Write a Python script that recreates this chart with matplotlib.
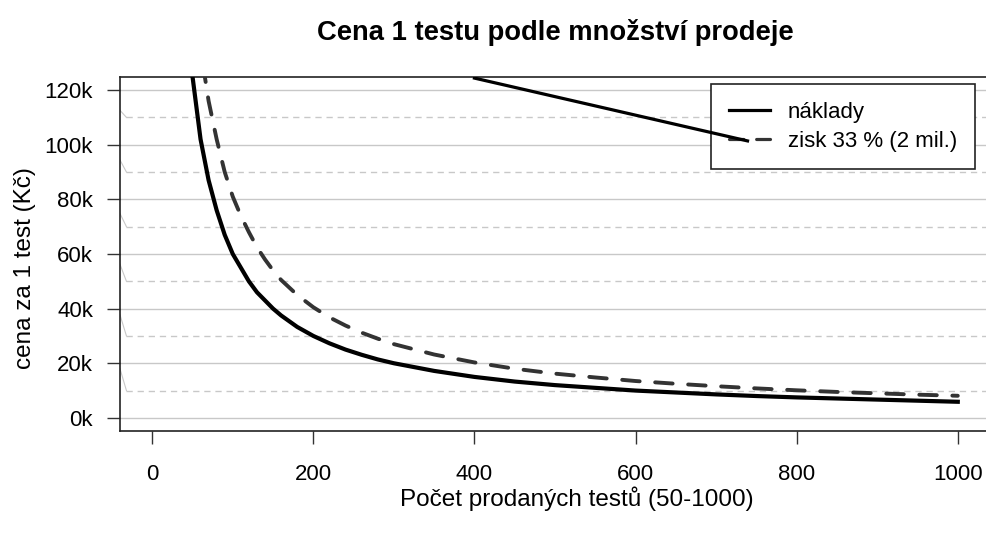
import matplotlib
matplotlib.use('Agg')
import matplotlib.pyplot as plt

# data
n_tests = [50, 60, 70, 80, 90, 100, 110, 120, 130, 140, 150, 160, 180, 200,
           220, 240, 260, 280, 300, 350, 400, 450, 500, 550, 600, 650, 700,
           750, 800, 850, 900, 950, 1000]
naklady = [125000, 102000, 87000, 76000, 67000, 60000, 55000, 50000, 46000,
           43000, 40000, 37500, 33300, 30000, 27300, 25000, 23100, 21400,
           20000, 17200, 15000, 13300, 12000, 11000, 10000, 9300, 8600,
           8000, 7500, 7100, 6700, 6300, 5900]
zisk = [165000, 135000, 116000, 102000, 90000, 81000, 74000, 68000, 62500,
        58000, 54000, 50500, 45000, 40500, 36800, 33800, 31200, 29000,
        27000, 23200, 20300, 18000, 16200, 14800, 13500, 12500, 11600,
        10800, 10100, 9500, 9000, 8500, 8100]
# stray straight line running into the legend
extra_x = [400, 739]
extra_y = [124400, 101400]

x_ticks = [0, 200, 400, 600, 800, 1000]
y_major = [0, 20000, 40000, 60000, 80000, 100000, 120000]
y_minor = [10000, 30000, 50000, 70000, 90000, 110000]
minor_off = [8000, 7700, 6200, 4800, 4400, 2600]  # little kinks at left edge

font = {'family': ['Liberation Sans', 'DejaVu Sans']}


def main():
    plt.rc('font', **font)
    fig = plt.figure(figsize=(9.87, 5.41), dpi=100)
    ax = fig.add_axes([120/987, 110/541, 870/987, 354/541])
    ax.set_xlim(-40, 1040)
    ax.set_ylim(-4800, 124800)

    grid_c = '#c8c8c8'
    for v in y_major:
        ax.axhline(v, color=grid_c, lw=1.0, zorder=1)
    for v, off in zip(y_minor, minor_off):
        ax.plot([-32, 1040], [v, v], color=grid_c, lw=1.0,
                dashes=(4.5, 3.5), zorder=1)
        ax.plot([-40, -32], [v + off, v], color=grid_c, lw=0.8, zorder=1)

    ax.plot(n_tests, naklady, color='black', lw=3.0, zorder=3,
            solid_joinstyle='round', label='náklady')
    ax.plot(n_tests, zisk, color='#333333', lw=2.8, dashes=(4.5, 4),
            dash_capstyle='round', zorder=3, label='zisk 33 % (2 mil.)')
    ax.plot(extra_x, extra_y, color='black', lw=2.3, zorder=6)

    leg = ax.legend(loc='upper right', bbox_to_anchor=(975/987, 1 - 84/541),
                    bbox_transform=fig.transFigure, fontsize=16,
                    fancybox=False, framealpha=1, edgecolor='#222222',
                    handlelength=1.85, handletextpad=0.8, labelspacing=0.35,
                    borderpad=0.8, borderaxespad=0)
    leg.get_frame().set_linewidth(1.2)
    leg.set_zorder(5)
    for h in leg.get_lines():
        h.set_linewidth(2.3)

    ax.set_xticks(x_ticks)
    ax.set_yticks(y_major)
    ax.set_yticklabels(['{}k'.format(v // 1000) for v in y_major])
    ax.tick_params(axis='both', labelsize=16, length=9.4, width=1.0,
                   color='#333333')
    ax.tick_params(axis='x', pad=14)
    ax.tick_params(axis='y', pad=10)
    for s in ax.spines.values():
        s.set_color('#222222')
        s.set_linewidth(1.2)
    ax.spines['right'].set_visible(False)

    ax.set_xlabel('Počet prodaných testů (50-1000)', fontsize=17.5)
    ax.xaxis.label.set_verticalalignment('center')
    ax.xaxis.set_label_coords(0.525, -0.192)
    ax.set_ylabel('cena za 1 test (Kč)', fontsize=17.5)
    ax.yaxis.label.set_verticalalignment('center')
    ax.yaxis.set_label_coords(-0.109, 0.46)
    ax.set_title('Cena 1 testu podle množství prodeje', fontsize=19.7,
                 fontweight='bold', pad=26.6)

    plt.savefig('out.png', dpi=100)


if __name__ == '__main__':
    main()
